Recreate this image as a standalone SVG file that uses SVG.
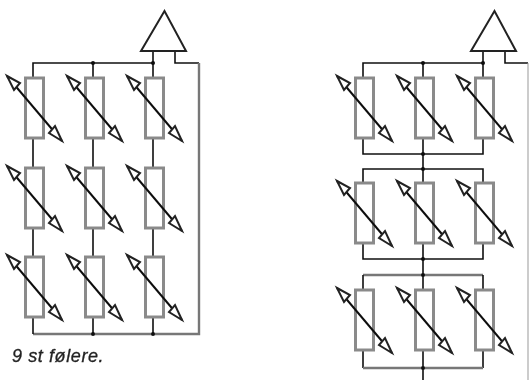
<svg xmlns="http://www.w3.org/2000/svg" width="529" height="380" viewBox="0 0 529 380">
<style>
.w{fill:none;stroke:#111;stroke-width:1.6}
.g{fill:none;stroke:#777;stroke-width:2.4}
.r{fill:#fff;stroke:#8a8a8a;stroke-width:3}
.a{fill:none;stroke:#111;stroke-width:2}
.h{fill:#fff;stroke:#222;stroke-width:2;stroke-linejoin:miter}
.t{fill:#fff;stroke:#222;stroke-width:2}
.d{fill:#111}
svg>g,svg>text{filter:url(#soft)}
text{font-family:"Liberation Sans",Arial,sans-serif;font-style:italic;font-size:18px;letter-spacing:0.6px;fill:#222;stroke:#222;stroke-width:0.3}
</style>
<defs>
<filter id="soft" x="-5%" y="-5%" width="110%" height="110%"><feGaussianBlur stdDeviation="0.45"/></filter>
<g id="sensor">
<rect class="r" x="25.500" y="78" width="18" height="60"/>
<line class="a" x1="7" y1="76" x2="62" y2="141"/>
<polygon class="h" points="7,76 20,83 14,90 "/>
<polygon class="h" points="62,141 49,133 55,126"/>
</g>
</defs>
<g id="connectors">
<path class="w" d="M33 78V63H153M93 63V78M153 51V78M175 51V63H199"/>
<path class="g" d="M199 63V334H33"/>
<path class="w" d="M33 138V168M93 138V168M153 138V168M33 228V257M93 228V257M153 228V257M33 317V334M93 317V334M153 317V334"/>
<circle class="d" cx="93" cy="63" r="2"/><circle class="d" cx="153" cy="63" r="2"/>
<circle class="d" cx="93" cy="334" r="2"/><circle class="d" cx="153" cy="334" r="2"/>
<path class="w" d="M363 78V63H483M423 63V78M483 51V78M505 51V63H528"/>
<path d="M528 63V380" fill="none" stroke="#999" stroke-width="1"/>
<path class="w" d="M363 138V154H483V138M423 138V183M363 183V169H483V183"/>
<path class="w" d="M363 244V259H483V244M423 244V290"/>
<path class="g" d="M363 275H483"/>
<path class="w" d="M363 290V275M483 290V275M363 351V368M483 351V368M423 351V380"/>
<path class="g" d="M363 368H483"/>
<circle class="d" cx="423" cy="63" r="2"/><circle class="d" cx="483" cy="63" r="2"/>
<circle class="d" cx="423" cy="154" r="2"/><circle class="d" cx="423" cy="169" r="2"/>
<circle class="d" cx="423" cy="259" r="2"/><circle class="d" cx="423" cy="275" r="2"/>
<circle class="d" cx="423" cy="368" r="2"/>
</g>
<g id="amp-left"><polygon class="t" points="164.500,11 141,51 186,51"/></g>
<g id="amp-right"><polygon class="t" points="494.500,11 471,51 516,51"/></g>
<g id="l-r1c1"><use href="#sensor"/></g>
<g id="l-r1c2"><use href="#sensor" x="60"/></g>
<g id="l-r1c3"><use href="#sensor" x="120"/></g>
<g id="l-r2c1"><use href="#sensor" y="90"/></g>
<g id="l-r2c2"><use href="#sensor" x="60" y="90"/></g>
<g id="l-r2c3"><use href="#sensor" x="120" y="90"/></g>
<g id="l-r3c1"><use href="#sensor" y="179"/></g>
<g id="l-r3c2"><use href="#sensor" x="60" y="179"/></g>
<g id="l-r3c3"><use href="#sensor" x="120" y="179"/></g>
<g id="r-r1c1"><use href="#sensor" x="330"/></g>
<g id="r-r1c2"><use href="#sensor" x="390"/></g>
<g id="r-r1c3"><use href="#sensor" x="450"/></g>
<g id="r-r2c1"><use href="#sensor" x="330" y="105"/></g>
<g id="r-r2c2"><use href="#sensor" x="390" y="105"/></g>
<g id="r-r2c3"><use href="#sensor" x="450" y="105"/></g>
<g id="r-r3c1"><use href="#sensor" x="330" y="212"/></g>
<g id="r-r3c2"><use href="#sensor" x="390" y="212"/></g>
<g id="r-r3c3"><use href="#sensor" x="450" y="212"/></g>
<text x="12" y="362">9 st følere.</text>
</svg>
